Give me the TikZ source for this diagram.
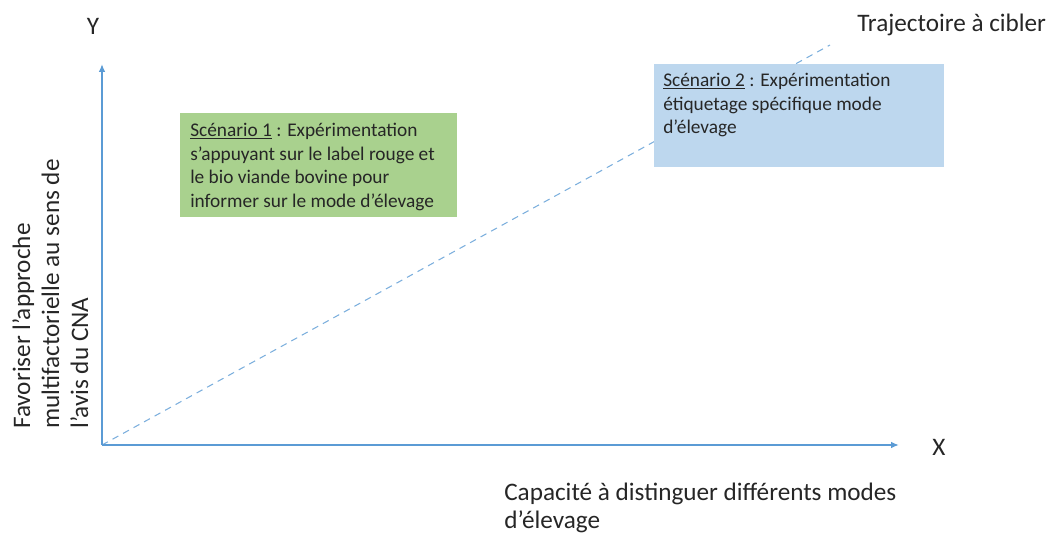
\documentclass[tikz,border=0pt]{standalone}
\usepackage{fontspec}
\setmainfont{Carlito}
\usetikzlibrary{arrows.meta,calc}
\definecolor{axisblue}{HTML}{5B9BD5}
\definecolor{boxgreen}{HTML}{A9D18E}
\definecolor{boxblue}{HTML}{BDD7EE}
\definecolor{txt}{HTML}{262626}
\tikzset{
  axis/.style={draw=axisblue,line width=1.6pt,-{Latex[length=6pt,width=5pt]}},
  traj/.style={draw=axisblue!80,line width=0.8pt,dash pattern=on 5pt off 4pt},
  boxtext/.style={font=\fontsize{14.5pt}{17.6pt}\selectfont,text=txt,align=left,inner sep=0pt,anchor=north west},
  lbl/.style={font=\fontsize{18.9pt}{21pt}\selectfont,text=txt,inner sep=0pt},
  panel/.style={inner sep=0pt,anchor=north west}
}
\begin{document}
\begin{tikzpicture}[x=0.75pt,y=-0.75pt]
\useasboundingbox (0,0) rectangle (1051,534);
\coordinate (O) at (102,445);
\coordinate (Ytop) at (102,64);
\coordinate (Xend) at (899,445);
\coordinate (Tend) at (830,45);
\draw[traj] (O) -- (Tend);
\draw[axis] (O) -- (Ytop);
\draw[axis] (O) -- (Xend);
\node[lbl] (ylab) at (93,26) {Y};
\node[lbl] (xlab) at (939,447) {X};
\node[lbl,anchor=west] (traj) at (857,25) {Trajectoire à cibler};
\node[lbl,anchor=north west,align=left] (xtitle) at (504,483) {Capacité à distinguer différents modes\\d’élevage};
\node[lbl,anchor=north west,align=left,rotate=90,font=\fontsize{18.9pt}{21.75pt}\selectfont] (ytitle) at (12,429) {Favoriser l’approche\\multifactorielle au sens de\\l’avis du CNA};
\node[panel,fill=boxgreen,minimum width=207.75pt,minimum height=78pt] (s1) at (180,113) {};
\node[boxtext] (s1t) at (190,123) {\underline{Scénario 1} : Expérimentation\\s’appuyant sur le label rouge et\\le bio viande bovine pour\\informer sur le mode d’élevage};
\node[panel,fill=boxblue,minimum width=217.5pt,minimum height=77.25pt] (s2) at (654,64) {};
\node[boxtext] (s2t) at (663,73) {\underline{Scénario 2} : Expérimentation\\étiquetage spécifique mode\\d’élevage};
\end{tikzpicture}
\end{document}
